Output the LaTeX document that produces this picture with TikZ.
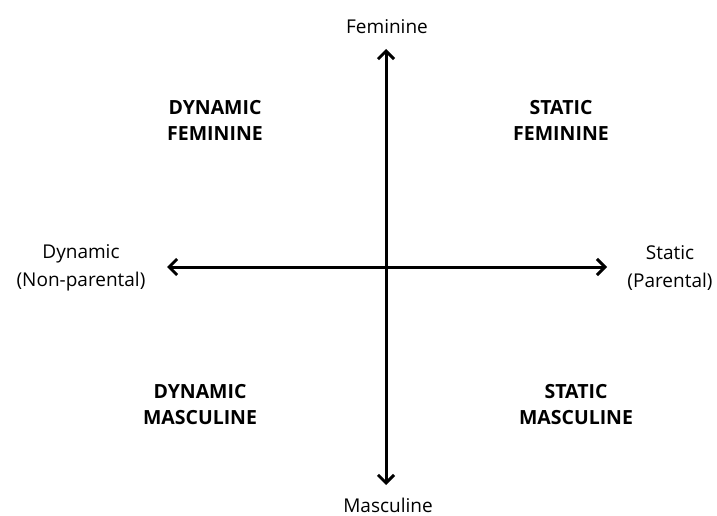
\documentclass[tikz,border=0pt]{standalone}
\usepackage{fontspec}
\setmainfont{Open Sans}
\usetikzlibrary{arrows.meta}
\begin{document}
\begin{tikzpicture}[x=1pt,y=-1pt,
  tip/.tip={Straight Barb[length=8pt,width=16pt,line width=3pt]},
  axis/.style={line width=3pt,tip-tip},
  lbl/.style={font=\fontsize{19}{28}\selectfont,align=center,inner sep=0pt},
  quad/.style={font=\fontsize{19.5}{26}\selectfont\bfseries,align=center,inner sep=0pt}]
\useasboundingbox (0,0) rectangle (717,516);
\coordinate (top) at (386,49);
\coordinate (bot) at (386,485);
\coordinate (left) at (167,267);
\coordinate (right) at (607,267);
\draw[axis] (top) -- (bot);
\draw[axis] (left) -- (right);
\node[lbl] (fem) at (387,27) {Feminine};
\node[lbl] (mas) at (388,505) {Masculine};
\node[lbl] (dyn) at (81,268) {Dynamic\\(Non-parental)};
\node[lbl] (sta) at (670,268) {Static\\(Parental)};
\node[quad] (df) at (215,120) {DYNAMIC\\FEMININE};
\node[quad] (sf) at (561,120) {STATIC\\FEMININE};
\node[quad] (dm) at (200,405) {DYNAMIC\\MASCULINE};
\node[quad] (sm) at (576,405) {STATIC\\MASCULINE};
\end{tikzpicture}
\end{document}
